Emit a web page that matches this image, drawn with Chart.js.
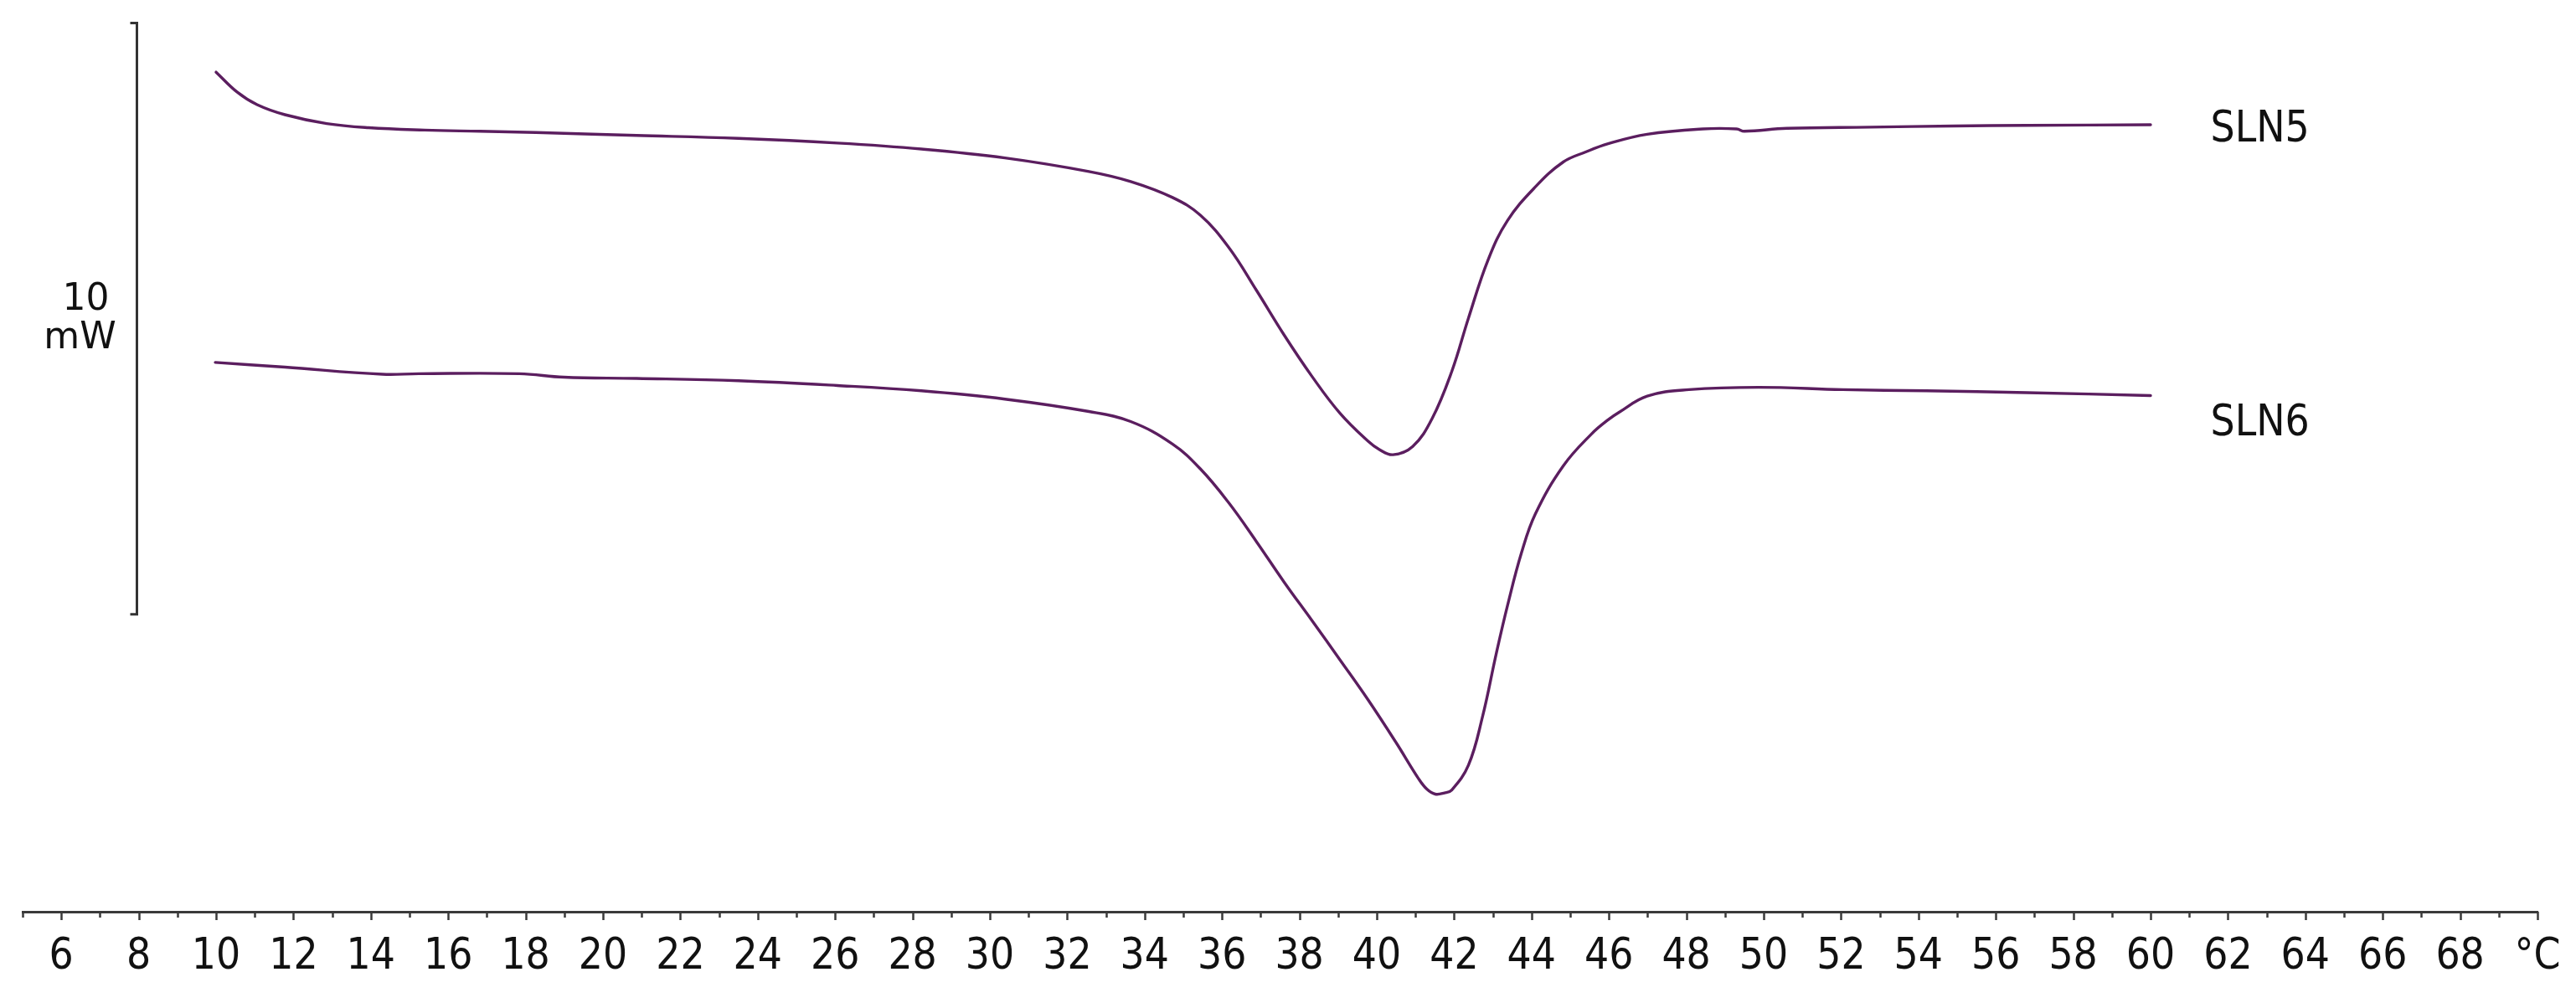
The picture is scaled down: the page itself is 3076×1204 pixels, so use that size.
<!DOCTYPE html>
<html><head><meta charset="utf-8">
<script src="https://cdn.jsdelivr.net/npm/chart.js@4.4.1/dist/chart.umd.min.js"></script>
<style>html,body{margin:0;padding:0;background:#fff;overflow:hidden}canvas{display:block}</style>
</head><body>
<canvas id="c" width="3076" height="1204" style="width:3076px;height:1204px"></canvas>
<script>
// Temperature (°C) and heat flow (mW, arbitrary offset)
const sln5Temp = [10.0, 10.55, 11.06, 11.78, 12.86, 13.94, 15.39, 16.82, 18.27, 19.72, 20.87, 23.5, 26.06, 28.23, 30.39, 32.56, 33.64, 34.72, 35.44, 36.17, 36.89, 37.6, 38.33, 39.05, 39.77, 40.06, 40.42, 40.93, 41.43, 41.94, 42.37, 42.88, 43.38, 44.1, 44.82, 45.4, 45.98, 46.99, 48.43, 49.3, 49.5, 50.6, 52.75, 54.9, 56.8, 60.0];
const sln5Heat = [9.17, 8.83, 8.62, 8.45, 8.30, 8.23, 8.19, 8.17, 8.15, 8.12, 8.10, 8.05, 7.97, 7.87, 7.72, 7.49, 7.32, 7.05, 6.75, 6.21, 5.48, 4.73, 4.02, 3.40, 2.93, 2.79, 2.70, 2.84, 3.31, 4.11, 5.01, 6.00, 6.66, 7.23, 7.65, 7.82, 7.96, 8.12, 8.21, 8.21, 8.17, 8.22, 8.24, 8.26, 8.27, 8.28];
const sln6Temp = [9.98, 11.78, 14.3, 15.24, 17.84, 18.99, 20.87, 23.5, 26.06, 28.23, 30.39, 32.56, 33.64, 34.72, 35.44, 36.17, 36.89, 37.6, 38.33, 39.05, 39.77, 40.5, 41.08, 41.3, 41.51, 41.75, 41.94, 42.37, 42.73, 43.09, 43.38, 43.74, 44.1, 44.82, 45.55, 45.98, 46.27, 46.99, 48.07, 49.87, 52.04, 54.2, 56.8, 60.0];
const sln6Heat = [4.26, 4.18, 4.06, 4.07, 4.07, 4.01, 3.99, 3.95, 3.87, 3.78, 3.64, 3.43, 3.26, 2.88, 2.46, 1.89, 1.23, 0.55, -0.11, -0.77, -1.44, -2.17, -2.78, -2.96, -3.04, -3.02, -2.97, -2.55, -1.74, -0.66, 0.15, 1.04, 1.70, 2.51, 3.05, 3.29, 3.42, 3.69, 3.80, 3.84, 3.80, 3.78, 3.75, 3.70];
const seriesNames = ['SLN5', 'SLN6'];

const majorTickValues = [6, 8, 10, 12, 14, 16, 18, 20, 22, 24, 26, 28, 30, 32, 34, 36, 38, 40, 42, 44, 46, 48, 50, 52, 54, 56, 58, 60, 62, 64, 66, 68, 70];
const majorTickLabels = ['6', '8', '10', '12', '14', '16', '18', '20', '22', '24', '26', '28', '30', '32', '34', '36', '38', '40', '42', '44', '46', '48', '50', '52', '54', '56', '58', '60', '62', '64', '66', '68', '°C'];
const minorTickValues = [5, 7, 9, 11, 13, 15, 17, 19, 21, 23, 25, 27, 29, 31, 33, 35, 37, 39, 41, 43, 45, 47, 49, 51, 53, 55, 57, 59, 61, 63, 65, 67, 69];
const scaleBarRange = [0, 10];
const scaleBarText = ['10', 'mW'];

const LINE_COLOR = '#5b1e5f';
const AXIS_COLOR = '#3a3a3a';
const TEXT_COLOR = '#111111';
const TICK_FONT = '"DejaVu Sans Condensed", "DejaVu Sans", sans-serif';

const allTicks = majorTickValues.concat(minorTickValues).sort((a, b) => a - b);
const toPoints = (xs, ys) => xs.map((x, i) => ({ x: x, y: ys[i] }));

const decor = {
  id: 'decor',
  afterDraw(chart) {
    const ctx = chart.ctx, xs = chart.scales.x, ys = chart.scales.y;
    const axisY = xs.top;
    ctx.save();
    ctx.strokeStyle = AXIS_COLOR;
    ctx.lineWidth = 2.5;
    ctx.lineCap = 'butt';
    for (const v of allTicks) {
      const x = Math.round(xs.getPixelForValue(v)) + 0.5;
      const len = majorTickValues.includes(v) ? 10 : 7;
      ctx.beginPath(); ctx.moveTo(x, axisY); ctx.lineTo(x, axisY + len); ctx.stroke();
    }
    // scale bar (10 mW)
    const bx = Math.round(xs.getPixelForValue(7.95)) + 0.5;
    const top = ys.getPixelForValue(scaleBarRange[1]);
    const bot = ys.getPixelForValue(scaleBarRange[0]);
    ctx.lineWidth = 3;
    ctx.strokeStyle = '#333';
    ctx.beginPath();
    ctx.moveTo(bx - 8, top); ctx.lineTo(bx, top); ctx.lineTo(bx, bot); ctx.lineTo(bx - 8, bot);
    ctx.stroke();
    const mid = (top + bot) / 2;
    ctx.fillStyle = TEXT_COLOR;
    ctx.font = '44px "DejaVu Sans", sans-serif';
    ctx.textAlign = 'center';
    ctx.textBaseline = 'alphabetic';
    ctx.fillText(scaleBarText[0], bx - 61, mid - 11);
    ctx.fillText(scaleBarText[1], bx - 68, mid + 35);
    // series labels
    ctx.font = '51px ' + TICK_FONT;
    ctx.textAlign = 'left';
    const lx = xs.getPixelForValue(61.55);
    ctx.fillText(seriesNames[0], lx, ys.getPixelForValue(sln5Heat[sln5Heat.length - 1]) + 20);
    ctx.fillText(seriesNames[1], lx, ys.getPixelForValue(sln6Heat[sln6Heat.length - 1]) + 48);
    ctx.restore();
  }
};

new Chart(document.getElementById('c'), {
  type: 'scatter',
  data: {
    datasets: [
      { label: seriesNames[0], data: toPoints(sln5Temp, sln5Heat) },
      { label: seriesNames[1], data: toPoints(sln6Temp, sln6Heat) }
    ]
  },
  options: {
    responsive: false,
    animation: false,
    devicePixelRatio: 1,
    layout: { padding: { left: 27, right: 46, top: 0, bottom: 0 } },
    elements: {
      line: { borderColor: LINE_COLOR, borderWidth: 3.4, tension: 0.4, fill: false, borderJoinStyle: 'round', borderCapStyle: 'round' },
      point: { radius: 0, hoverRadius: 0 }
    },
    datasets: { scatter: { showLine: true, borderColor: LINE_COLOR, backgroundColor: LINE_COLOR } },
    plugins: { legend: { display: false }, tooltip: { enabled: false } },
    scales: {
      x: {
        type: 'linear', position: 'bottom', min: 5, max: 70,
        afterBuildTicks: (scale) => { scale.ticks = allTicks.map(v => ({ value: v })); },
        afterFit: (scale) => { scale.height = 115; },
        grid: { display: false },
        border: { display: true, color: AXIS_COLOR, width: 3 },
        ticks: {
          autoSkip: false, maxRotation: 0, minRotation: 0, padding: 16,
          color: TEXT_COLOR,
          font: { family: TICK_FONT, size: 51 },
          callback: (value) => { const i = majorTickValues.indexOf(value); return i >= 0 ? majorTickLabels[i] : ''; }
        }
      },
      y: { type: 'linear', display: false, min: -5.03, max: 10.39 }
    }
  },
  plugins: [decor]
});
</script>
</body></html>
